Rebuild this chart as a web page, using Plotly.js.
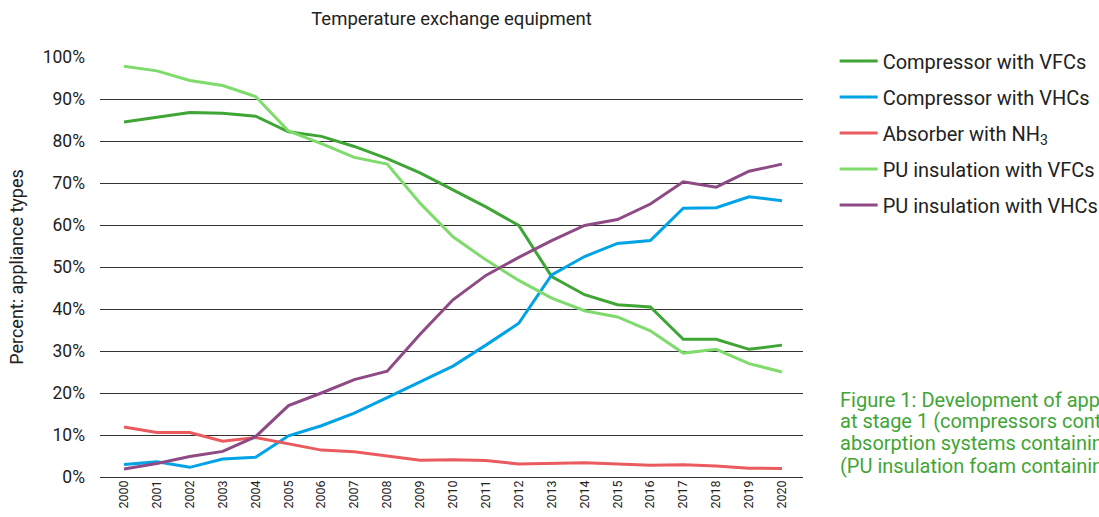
<!DOCTYPE html>
<html>
<head>
<meta charset="utf-8">
<script src="https://cdn.plot.ly/plotly-3.0.1.min.js"></script>
<style>html,body{margin:0;padding:0;background:#fff;overflow:hidden}#chart{width:1099px;height:517px}</style>
</head>
<body>
<div id="chart"></div>
<script>
const years = [2000,2001,2002,2003,2004,2005,2006,2007,2008,2009,2010,2011,2012,2013,2014,2015,2016,2017,2018,2019,2020];
const compressorVFC = [84.5,85.6,86.8,86.6,85.9,82.2,81.1,78.7,75.8,72.4,68.4,64.3,59.9,47.7,43.4,41.0,40.5,32.8,32.8,30.4,31.4];
const compressorVHC = [3.0,3.6,2.3,4.3,4.7,9.8,12.2,15.2,18.9,22.6,26.4,31.4,36.6,48.1,52.5,55.6,56.3,64.0,64.1,66.7,65.8];
const absorberNH3 = [11.9,10.6,10.6,8.5,9.4,7.9,6.4,6.0,5.0,4.0,4.1,3.9,3.1,3.2,3.4,3.1,2.8,2.9,2.6,2.1,2.0];
const puVFC = [97.8,96.7,94.4,93.2,90.6,82.4,79.4,76.1,74.5,65.2,57.2,51.7,46.8,42.6,39.6,38.1,34.8,29.5,30.4,27.0,25.0];
const puVHC = [1.9,3.2,4.9,6.1,9.6,17.0,20.0,23.2,25.2,34.0,42.2,48.0,52.3,56.3,59.9,61.3,65.0,70.3,69.0,72.8,74.5];
const seriesNames = ["Compressor with VFCs","Compressor with VHCs","Absorber with NH<sub>3</sub>","PU insulation with VFCs","PU insulation with VHCs"];
const seriesData = [compressorVFC, compressorVHC, absorberNH3, puVFC, puVHC];
const seriesColors = ["#3fa535","#00a3e6","#ea5b5f","#7edb6c","#8e4a85"];
const yTickVals = [0,10,20,30,40,50,60,70,80,90,100];
const yTickText = ['0%','10%','20%','30%','40%','50%','60%','70%','80%','90%','100%'];
const captionLines = ["Figure 1: Development of appliance types","at stage 1 (compressors containing","absorption systems containing","(PU insulation foam containing"];

const traces = seriesData.map((d,i)=>({
  x: years, y: d, type:'scatter', mode:'lines', name: seriesNames[i],
  legendgroup: 'g'+i,
  line:{color: seriesColors[i], width:3},
  hoverinfo:'x+y'
}));

const captionY = [0.184, 0.133, 0.080, 0.027];
const annotations = captionLines.map((t,i)=>({
  xref:'paper', yref:'paper', x:1.050, y:captionY[i], xanchor:'left', yanchor:'middle', align:'left',
  text:t, showarrow:false, font:{size:20, color:'#3fa535'}
}));

const layout = {
  width:1099, height:517,
  margin:{l:100, r:296, t:57, b:40, autoexpand:false},
  paper_bgcolor:'#fff', plot_bgcolor:'#fff',
  font:{family:'Roboto, sans-serif', color:'#222'},
  title:{text:'Temperature exchange equipment', font:{size:18.5, color:'#222'}, x:0.5, xref:'paper', xanchor:'center', y:0.965, yref:'container', yanchor:'middle'},
  xaxis:{range:[1999.27,2020.64], tickmode:'array', tickvals:years, ticktext:years.map(String),
    tickangle:-90, tickfont:{size:12.5, color:'#222'}, showgrid:false, zeroline:false, showline:false, ticks:'', fixedrange:true},
  yaxis:{range:[0,100], tickmode:'array', tickvals:yTickVals, ticktext:yTickText, ticklabelstandoff:14,
    tickfont:{size:17.5, color:'#222'}, showgrid:true, gridcolor:'#333', gridwidth:1, zeroline:true, zerolinecolor:'#333', zerolinewidth:1,
    showline:false, ticks:'', title:{text:'Percent: appliance types', font:{size:18, color:'#222'}, standoff:14}},
  legend:{x:1.045, xanchor:'left', y:1.037, yanchor:'top', font:{size:20, color:'#222'}, tracegroupgap:7, itemwidth:38, bgcolor:'rgba(0,0,0,0)'},
  showlegend:true,
  annotations: annotations
};
Plotly.newPlot('chart', traces, layout, {displayModeBar:false, staticPlot:true});
</script>
</body>
</html>
